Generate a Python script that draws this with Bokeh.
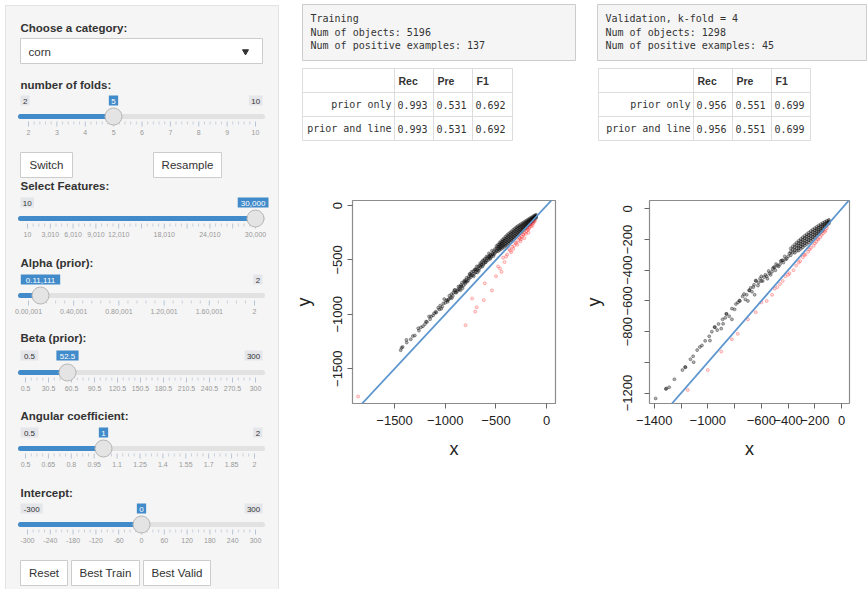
import numpy as np
from bokeh.plotting import figure
from bokeh.models import Range1d, FixedTicker, Slope
from bokeh.layouts import row, column
from bokeh.embed import file_html
from bokeh.resources import INLINE
from bokeh.core.properties import value

SANS = "Liberation Sans"
MONO = "DejaVu Sans Mono"
BLUE = "#428bca"

# ---------------- data ----------------
category = "corn"

folds_min, folds_max, folds_val = "2", "10", "5"
folds_grid = ["2", "3", "4", "5", "6", "7", "8", "9", "10"]

feat_min, feat_max, feat_val = "10", "30,000", "30,000"
feat_grid = ["10", "3,010", "6,010", "9,010", "12,010", "", "18,010", "", "24,010", "", "30,000"]

alpha_min, alpha_max, alpha_val = "0.00,001", "2", "0.11,111"
alpha_grid = ["0.00,001", "0.40,001", "0.80,001", "1.20,001", "1.60,001", "2"]

beta_min, beta_max, beta_val = "0.5", "300", "52.5"
beta_grid = ["0.5", "30.5", "60.5", "90.5", "120.5", "150.5", "180.5", "210.5", "240.5", "270.5", "300"]

ang_min, ang_max, ang_val = "0.5", "2", "1"
ang_grid = ["0.5", "0.65", "0.8", "0.95", "1.1", "1.25", "1.4", "1.55", "1.7", "1.85", "2"]

icp_min, icp_max, icp_val = "-300", "300", "0"
icp_grid = ["-300", "-240", "-180", "-120", "-60", "0", "60", "120", "180", "240", "300"]

train_info = ["Training", "Num of objects: 5196", "Num of positive examples: 137"]
valid_info = ["Validation, k-fold = 4", "Num of objects: 1298", "Num of positive examples: 45"]

table_cols = ["Rec", "Pre", "F1"]
table_rows = ["prior only", "prior and line"]
train_table = [["0.993", "0.531", "0.692"], ["0.993", "0.531", "0.692"]]
valid_table = [["0.956", "0.551", "0.699"], ["0.956", "0.551", "0.699"]]

line_slope = 1.0      # angular coefficient
line_intercept = 0.0  # intercept

# training set, negative examples: dense band (x, [y values])
train_band = [
    (-105, [-85, -92, -99, -106, -113]),
    (-120, [-92, -101, -110, -119, -128]),
    (-135, [-100, -111, -122, -133, -144]),
    (-150, [-110, -122, -134, -146, -158]),
    (-165, [-118, -131, -144, -157, -170]),
    (-180, [-127, -141, -155, -169, -183]),
    (-195, [-136, -151, -166, -181, -196]),
    (-210, [-145, -161, -177, -193, -209]),
    (-225, [-154, -171, -188, -205, -222]),
    (-240, [-163, -181, -199, -217, -235]),
    (-255, [-172, -191, -210, -229, -248]),
    (-270, [-181, -201, -221, -241, -261]),
    (-285, [-190, -211, -232, -253, -274]),
    (-300, [-200, -222, -244, -266, -288]),
    (-315, [-212, -234, -256, -278, -300]),
    (-330, [-224, -246, -268, -290, -312]),
    (-345, [-236, -258, -280, -302, -324]),
    (-360, [-248, -270, -292, -314, -336]),
    (-375, [-260, -282, -304, -326, -348]),
    (-390, [-272, -294, -316, -338, -360]),
    (-405, [-286, -307, -328, -349, -370]),
    (-420, [-300, -320, -340, -360, -380]),
    (-435, [-314, -333, -352, -371, -390]),
    (-450, [-328, -346, -364, -382, -400]),
    (-465, [-342, -359, -376, -393, -410]),
    (-480, [-360, -380, -400, -420]),
    (-495, [-372, -395, -418]),
]
train_sparse = [
    (-510, -400), (-515, -445), (-530, -450), (-540, -415), (-545, -470), (-560, -480),
    (-560, -455), (-575, -500), (-580, -470), (-590, -505), (-605, -525), (-610, -490),
    (-620, -530), (-630, -505), (-635, -560), (-650, -565), (-655, -530), (-665, -580),
    (-680, -590), (-690, -560), (-700, -615), (-705, -585), (-715, -625), (-730, -640),
    (-740, -610), (-750, -660), (-760, -630), (-765, -670), (-785, -700), (-790, -665),
    (-800, -705), (-810, -690), (-820, -735), (-835, -710), (-840, -745), (-850, -778),
    (-860, -770), (-870, -745), (-880, -785), (-900, -800), (-910, -780), (-925, -830),
    (-940, -815), (-950, -850), (-960, -830), (-975, -870), (-977, -885), (-1000, -895),
    (-1010, -860), (-1030, -930), (-1050, -920), (-1060, -955), (-1093, -976),
    (-1090, -985), (-1120, -1010), (-1150, -1045), (-1160, -1020), (-1180, -1070),
    (-1190, -1067), (-1220, -1110), (-1260, -1150), (-1267, -1128), (-1300, -1195),
    (-1340, -1230), (-1383, -1235), (-1380, -1260), (-1420, -1300), (-1431, -1308),
    (-1440, -1330),
    (-505, -430), (-520, -420), (-525, -465), (-535, -440), (-550, -455), (-555, -490),
    (-565, -470), (-570, -440), (-585, -485), (-595, -470), (-600, -520), (-615, -500),
    (-625, -545), (-640, -520), (-645, -545), (-660, -550), (-670, -600), (-675, -560),
    (-685, -615), (-695, -590), (-710, -590), (-720, -650), (-725, -605), (-745, -640),
    (-755, -630), (-770, -655), (-775, -690), (-795, -685), (-805, -720), (-815, -700),
    (-830, -760), (-845, -730), (-855, -745), (-875, -770), (-890, -800), (-905, -775),
    (-920, -800), (-935, -850), (-965, -860), (-990, -870), (-1020, -900), (-1040, -950),
    (-1070, -940), (-1110, -990), (-1140, -1020), (-1200, -1090), (-1240, -1120),
    (-1320, -1200),
]
train_pos = [
    (-115, -140), (-130, -160), (-145, -170), (-155, -190), (-170, -200),
    (-185, -225), (-200, -235), (-215, -250), (-230, -270), (-245, -285),
    (-260, -300), (-280, -320), (-300, -345), (-320, -370), (-180, -250),
    (-220, -300), (-260, -330), (-290, -360), (-330, -400), (-360, -415),
    (-400, -470), (-415, -520), (-445, -610), (-460, -580), (-500, -650),
    (-540, -780), (-610, -715), (-620, -870), (-705, -975), (-735, -855),
    (-800, -1100), (-690, -935), (-1860, -1755),
    (-125, -150), (-140, -185), (-160, -175), (-175, -215), (-190, -210),
    (-205, -260), (-235, -265), (-250, -310), (-270, -295), (-310, -340),
    (-340, -380), (-350, -430), (-370, -400), (-390, -450), (-430, -480),
    (-480, -560),
]
# validation set
valid_band = [
    (-95, [-72, -80, -88, -96]),
    (-110, [-78, -88, -98, -108]),
    (-125, [-85, -96, -107, -118]),
    (-140, [-92, -104, -116, -128, -140]),
    (-155, [-100, -113, -126, -139, -152]),
    (-170, [-108, -122, -136, -150, -164]),
    (-185, [-117, -131, -145, -159, -173]),
    (-200, [-126, -141, -156, -171, -186]),
    (-215, [-135, -151, -167, -183, -199]),
    (-230, [-145, -161, -177, -193, -209]),
    (-245, [-155, -171, -187, -203, -219]),
    (-260, [-165, -181, -197, -213, -229]),
    (-275, [-175, -191, -207, -223, -239]),
    (-290, [-186, -202, -218, -234, -250]),
    (-305, [-197, -213, -229, -245, -261]),
    (-320, [-208, -224, -240, -256, -272]),
    (-335, [-220, -238, -256, -274]),
    (-350, [-232, -250, -268, -286]),
    (-365, [-245, -265, -285]),
    (-380, [-258, -280, -302]),
]
valid_sparse = [
    (-400, -310), (-420, -330), (-440, -335), (-447, -337), (-460, -360), (-480, -370),
    (-500, -380), (-508, -380), (-520, -410), (-540, -420), (-560, -440), (-580, -445),
    (-600, -470), (-600, -440), (-620, -480), (-640, -470), (-642, -467), (-650, -560),
    (-660, -510), (-690, -530), (-691, -532), (-700, -600), (-710, -560), (-740, -570),
    (-760, -600), (-764, -597), (-790, -620), (-820, -650), (-820, -720), (-860, -685),
    (-862, -684), (-886, -749), (-890, -720), (-900, -780), (-920, -750), (-947, -771),
    (-950, -770), (-984, -858), (-990, -830), (-1020, -860), (-1044, -890), (-1080, -920),
    (-1106, -999), (-1110, -960), (-1167, -1032), (-1170, -1030), (-1190, -1050),
    (-1250, -1110), (-1289, -1162), (-1314, -1173), (-1310, -1170), (-1390, -1235),
    (-390, -290), (-410, -325), (-425, -310), (-435, -350), (-455, -340), (-470, -375),
    (-490, -360), (-495, -400), (-515, -390), (-530, -430), (-545, -405), (-555, -455),
    (-570, -430), (-590, -470), (-610, -455), (-625, -500), (-655, -495), (-670, -540),
    (-680, -515), (-720, -590), (-730, -555), (-775, -610), (-800, -655), (-840, -700),
    (-870, -710), (-930, -790), (-970, -800), (-1060, -900), (-1130, -980),
]
valid_pos = [
    (-110, -125), (-125, -150), (-140, -160), (-160, -185), (-175, -200),
    (-190, -215), (-210, -240), (-230, -255), (-250, -280), (-270, -300),
    (-290, -315), (-310, -340), (-340, -370), (-360, -400), (-390, -420),
    (-420, -440), (-440, -470), (-480, -510), (-520, -560), (-560, -600),
    (-600, -610), (-642, -673), (-700, -720), (-777, -814), (-820, -850),
    (-900, -930), (-1000, -1050), (-1150, -1180),
    (-120, -140), (-150, -170), (-180, -195), (-200, -225), (-240, -265),
    (-280, -300), (-320, -350), (-400, -430), (-460, -490), (-500, -520),
]


def expand(band, sparse):
    pts = [(bx, by) for bx, ys in band for by in ys]
    return pts + list(sparse)


train_neg = expand(train_band, train_sparse)
valid_neg = expand(valid_band, valid_sparse)


# ---------------- helpers ----------------
def canvas(w, h, x0, y0):
    p = figure(width=w, height=h, x_range=Range1d(x0, x0 + w), y_range=Range1d(y0 + h, y0),
               output_backend="svg", toolbar_location=None, min_border=0,
               x_axis_location=None, y_axis_location=None)
    p.grid.visible = False
    p.outline_line_color = None
    p.background_fill_color = "white"
    p.border_fill_color = "white"
    return p


def txt(p, x, y, s, size="11px", color="#333333", font=SANS, style="normal", align="left"):
    p.text(x=[x], y=[y], text=[s], text_font=value(font), text_font_size=size,
           text_color=color, text_font_style=style, text_align=align, text_baseline="middle")


def box(p, l, r, t, b, fill, line):
    p.quad(left=[l], right=[r], top=[t], bottom=[b], fill_color=fill, line_color=line, line_width=1)


def tag(p, cx, y, s, fill, color):
    w = len(s) * 4.3 + 5
    box(p, cx - w / 2, cx + w / 2, y - 5, y + 5, fill, None)
    txt(p, cx, y + 0.5, s, size="8px", color=color, align="center")


def slider(p, label, label_y, lab_y, bar_y, handle, smin, smax, sval, grid, gx0, gx1,
           show_min=True, show_max=True, minor=4):
    txt(p, 20, label_y, label, size="11.5px", color="#333333", style="bold")
    gpos = np.linspace(gx0, gx1, len(grid))
    step = (gx1 - gx0) / (len(grid) - 1)
    mx = []
    for gp in gpos[:-1]:
        for k in range(1, minor + 1):
            mx.append(gp + k * step / (minor + 1))
    p.segment(x0=list(gpos), x1=list(gpos), y0=[bar_y + 5] * len(gpos), y1=[bar_y + 10] * len(gpos),
              line_color="#b8c4d4", line_width=1)
    p.segment(x0=mx, x1=mx, y0=[bar_y + 5] * len(mx), y1=[bar_y + 8] * len(mx),
              line_color="#c8d0dc", line_width=1)
    for gp, g in zip(gpos, grid):
        if g:
            txt(p, gp, bar_y + 16, g, size="7px", color="#999999", align="center")
    p.segment(x0=[20], x1=[262], y0=[bar_y], y1=[bar_y], line_color="#e2e2e2", line_width=5, line_cap="round")
    p.segment(x0=[20], x1=[handle], y0=[bar_y], y1=[bar_y], line_color=BLUE, line_width=5, line_cap="round")
    p.scatter(x=[handle], y=[bar_y], size=17, marker="circle", fill_color="#e4e4e4", line_color="#b5b5b5")
    if show_min:
        w = len(smin) * 4.3 + 5
        tag(p, 20 + w / 2, lab_y, smin, "#e4e6ea", "#333333")
    if show_max:
        w = len(smax) * 4.3 + 5
        tag(p, 262 - w / 2, lab_y, smax, "#e4e6ea", "#333333")
    w = len(sval) * 4.3 + 5
    cx = min(max(handle, 20 + w / 2), 268 - w / 2)
    tag(p, cx, lab_y, sval, BLUE, "white")


def button(p, l, r, t, b, s):
    box(p, l, r, t, b, "white", "#cccccc")
    txt(p, (l + r) / 2, (t + b) / 2, s, size="11.5px", color="#333333", align="center")


def table(p, cols, rows_y, header, rlabels, vals):
    box(p, cols[0], cols[-1], rows_y[0], rows_y[-1], "white", "#dddddd")
    p.segment(x0=cols[1:-1], x1=cols[1:-1], y0=[rows_y[0]] * (len(cols) - 2), y1=[rows_y[-1]] * (len(cols) - 2),
              line_color="#dddddd")
    p.segment(x0=[cols[0]] * (len(rows_y) - 2), x1=[cols[-1]] * (len(rows_y) - 2), y0=rows_y[1:-1], y1=rows_y[1:-1],
              line_color="#dddddd")
    for j, h in enumerate(header):
        txt(p, cols[j + 1] + 4, (rows_y[0] + rows_y[1]) / 2, h, size="10.5px", color="#333333", style="bold")
    for i, rl in enumerate(rlabels):
        yc = (rows_y[i + 1] + rows_y[i + 2]) / 2
        txt(p, cols[1] - 3, yc, rl, size="10px", color="#333333", font=MONO, align="right")
        for j, v in enumerate(vals[i]):
            txt(p, cols[j + 1] + 3, yc, v, size="10px", color="#333333", font=MONO)


# ---------------- left panel ----------------
left = canvas(290, 589, 0, 0)
box(left, 5, 278, 5, 600, "#f5f5f5", "#e3e3e3")
txt(left, 20, 27, "Choose a category:", size="11.5px", style="bold")
box(left, 20, 262, 38, 63, "white", "#cccccc")
txt(left, 28, 51, category, size="11.5px", color="#333333")
left.scatter(x=[245], y=[51], marker="inverted_triangle", size=6, fill_color="#333333", line_color="#333333")

slider(left, "number of folds:", 84, 100, 116, 113, folds_min, folds_max, folds_val, folds_grid, 28, 255, minor=4)
button(left, 20, 72, 152, 177, "Switch")
button(left, 153, 221, 152, 177, "Resample")
slider(left, "Select Features:", 185, 202, 218, 255, feat_min, feat_max, feat_val, feat_grid, 27, 255,
       show_max=False, minor=3)
slider(left, "Alpha (prior):", 262, 279, 295, 40, alpha_min, alpha_max, alpha_val, alpha_grid, 28, 254,
       show_min=False, minor=4)
slider(left, "Beta (prior):", 337, 355, 372, 67, beta_min, beta_max, beta_val, beta_grid, 25, 255, minor=3)
slider(left, "Angular coefficient:", 415, 432, 448, 103, ang_min, ang_max, ang_val, ang_grid, 25, 254, minor=3)
slider(left, "Intercept:", 492, 508, 524, 141, icp_min, icp_max, icp_val, icp_grid, 27, 255, minor=3)
button(left, 20, 67, 560, 585, "Reset")
button(left, 71, 139, 560, 585, "Best Train")
button(left, 143, 210, 560, 585, "Best Valid")

# ---------------- top area ----------------
top = canvas(578, 170, 290, 0)
box(top, 302, 575, 4, 60, "#f5f5f5", "#cccccc")
box(top, 597, 866, 4, 60, "#f5f5f5", "#cccccc")
for k, s in enumerate(train_info):
    txt(top, 310, 18 + 13.5 * k, s, size="10px", color="#333333", font=MONO)
for k, s in enumerate(valid_info):
    txt(top, 605, 18 + 13.5 * k, s, size="10px", color="#333333", font=MONO)
rows_y = [68, 92, 116, 140]
table(top, [302, 394, 433, 472, 512], rows_y, table_cols, table_rows, train_table)
table(top, [598, 693, 732, 771, 810], rows_y, table_cols, table_rows, valid_table)


# ---------------- scatter plots ----------------
def scatter_panel(w, h, xr, yr, borders, xt, yt, xhide, yhide, neg, pos, xstand, ystand, ylstand):
    p = figure(width=w, height=h, x_range=Range1d(*xr), y_range=Range1d(*yr),
               output_backend="svg", toolbar_location=None,
               min_border_left=borders[0], min_border_right=borders[1],
               min_border_top=borders[2], min_border_bottom=borders[3])
    p.grid.visible = False
    p.outline_line_color = "#8c8c8c"
    p.outline_line_width = 1.2
    p.background_fill_color = "white"
    p.border_fill_color = "white"
    p.xaxis.ticker = FixedTicker(ticks=xt)
    p.yaxis.ticker = FixedTicker(ticks=yt)
    p.xaxis.major_label_overrides = {t: "" for t in xhide}
    p.yaxis.major_label_overrides = {t: "" for t in yhide}
    for ax in (p.xaxis[0], p.yaxis[0]):
        ax.axis_line_color = None
        ax.major_tick_line_color = "#666666"
        ax.major_tick_out = 5
        ax.major_tick_in = 0
        ax.minor_tick_line_color = None
        ax.major_label_text_font = SANS
        ax.major_label_text_font_size = "13px"
        ax.major_label_text_color = "#222222"
        ax.axis_label_text_font = SANS
        ax.axis_label_text_font_size = "18px"
        ax.axis_label_text_font_style = "normal"
        ax.axis_label_text_color = "#222222"
    p.xaxis.axis_label = "x"
    p.yaxis.axis_label = "y"
    p.xaxis.major_label_standoff = xstand
    p.xaxis.axis_label_standoff = 11
    p.yaxis.major_label_standoff = ystand
    p.yaxis.axis_label_standoff = ylstand
    p.yaxis.major_label_orientation = "vertical"
    nx, ny = zip(*neg)
    px, py = zip(*pos)
    p.scatter(x=list(nx), y=list(ny), marker="circle", size=3, fill_color="black", fill_alpha=0.3,
              line_color="black", line_alpha=0.4, line_width=0.8)
    p.scatter(x=list(px), y=list(py), marker="circle", size=3, fill_color="#ff2a2a", fill_alpha=0.15,
              line_color="#ff2a2a", line_alpha=0.4, line_width=0.8)
    p.add_layout(Slope(gradient=line_slope, y_intercept=line_intercept,
                       line_color="#5d95cf", line_width=1.8))
    return p


sc1 = scatter_panel(290, 419, (-1915, 87), (-1820, 46), (58, 25, 30, 185),
                    [-1500, -1000, -500, 0], [-1500, -1000, -500, 0], [], [],
                    train_neg, train_pos, 7, 5, 17)
sc2 = scatter_panel(288, 419, (-1436, 59), (-1268, 54), (65, 19, 30, 186),
                    [-1400, -1200, -1000, -800, -600, -400, -200, 0],
                    [-1200, -1000, -800, -600, -400, -200, 0], [-1200, -800], [-1000],
                    valid_neg, valid_pos, 7, 12, 17)

layout = row(left, column(top, row(sc1, sc2)))
open("out.html", "w").write(file_html(layout, INLINE))
